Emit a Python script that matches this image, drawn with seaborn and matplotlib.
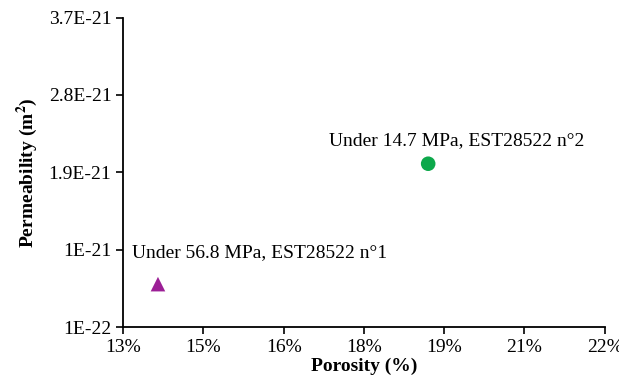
import math
import pandas as pd
import seaborn as sns
from matplotlib import pyplot as plt
from matplotlib.ticker import FuncFormatter

porosity = [0.1365, 0.1870]
permeability = [6.0e-22, 2.0e-21]
samples = ["Under 56.8 MPa, EST28522 n°1", "Under 14.7 MPa, EST28522 n°2"]
colors = ["#9C1F96", "#0DA84B"]
markers = ["^", "o"]
x_ticks = [0.13, 0.145, 0.16, 0.175, 0.19, 0.205, 0.22]
y_ticks = [1e-22, 1e-21, 1.9e-21, 2.8e-21, 3.7e-21]
y_tick_labels = ["1E-22", "1E-21", "1.9E-21", "2.8E-21", "3.7E-21"]

df = pd.DataFrame({"porosity": porosity, "permeability": permeability, "sample": samples})

sns.set_style("ticks", {"text.color": "black", "axes.labelcolor": "black",
                        "xtick.color": "black", "ytick.color": "black"})
plt.rcParams["font.family"] = ["Liberation Serif", "DejaVu Serif"]
plt.rcParams["mathtext.fontset"] = "stix"

fig = plt.figure(figsize=(6.19, 3.89), dpi=100)
ax = fig.add_axes([0.199, 0.159, 0.778, 0.796])

sns.scatterplot(data=df, x="porosity", y="permeability", hue="sample", style="sample",
                palette=colors, markers=markers, s=110, edgecolor="none", legend=False, ax=ax)

# labels next to points
ax.text(0.1317, 0.97e-21, samples[0], fontsize=14, ha="left", va="center", color="black")
ax.text(0.1924, 2.27e-21, samples[1], fontsize=14, ha="center", va="center", color="black")

ax.set_xlim(0.13, 0.22)
ax.set_ylim(1e-22, 3.7e-21)
ax.set_xticks(x_ticks)
# excel style rounding (half up)
ax.xaxis.set_major_formatter(FuncFormatter(lambda v, p: "{:d}%".format(int(math.floor(v * 100 + 0.5 + 1e-9)))))
ax.set_yticks(y_ticks)
ax.set_yticklabels(y_tick_labels)
ax.yaxis.get_offset_text().set_visible(False)
ax.tick_params(labelsize=14, length=5, width=1.2, colors="black")
for s in ["left", "bottom"]:
    ax.spines[s].set_linewidth(1.3)
    ax.spines[s].set_color("black")
sns.despine(ax=ax)

ax.set_xlabel("Porosity (%)", fontsize=14, fontweight="bold", labelpad=1, color="black")
ax.set_ylabel("Permeability (m$^\\mathbf{2}$)", fontsize=14, fontweight="bold", labelpad=6, color="black")

plt.savefig("out.png", dpi=100)
